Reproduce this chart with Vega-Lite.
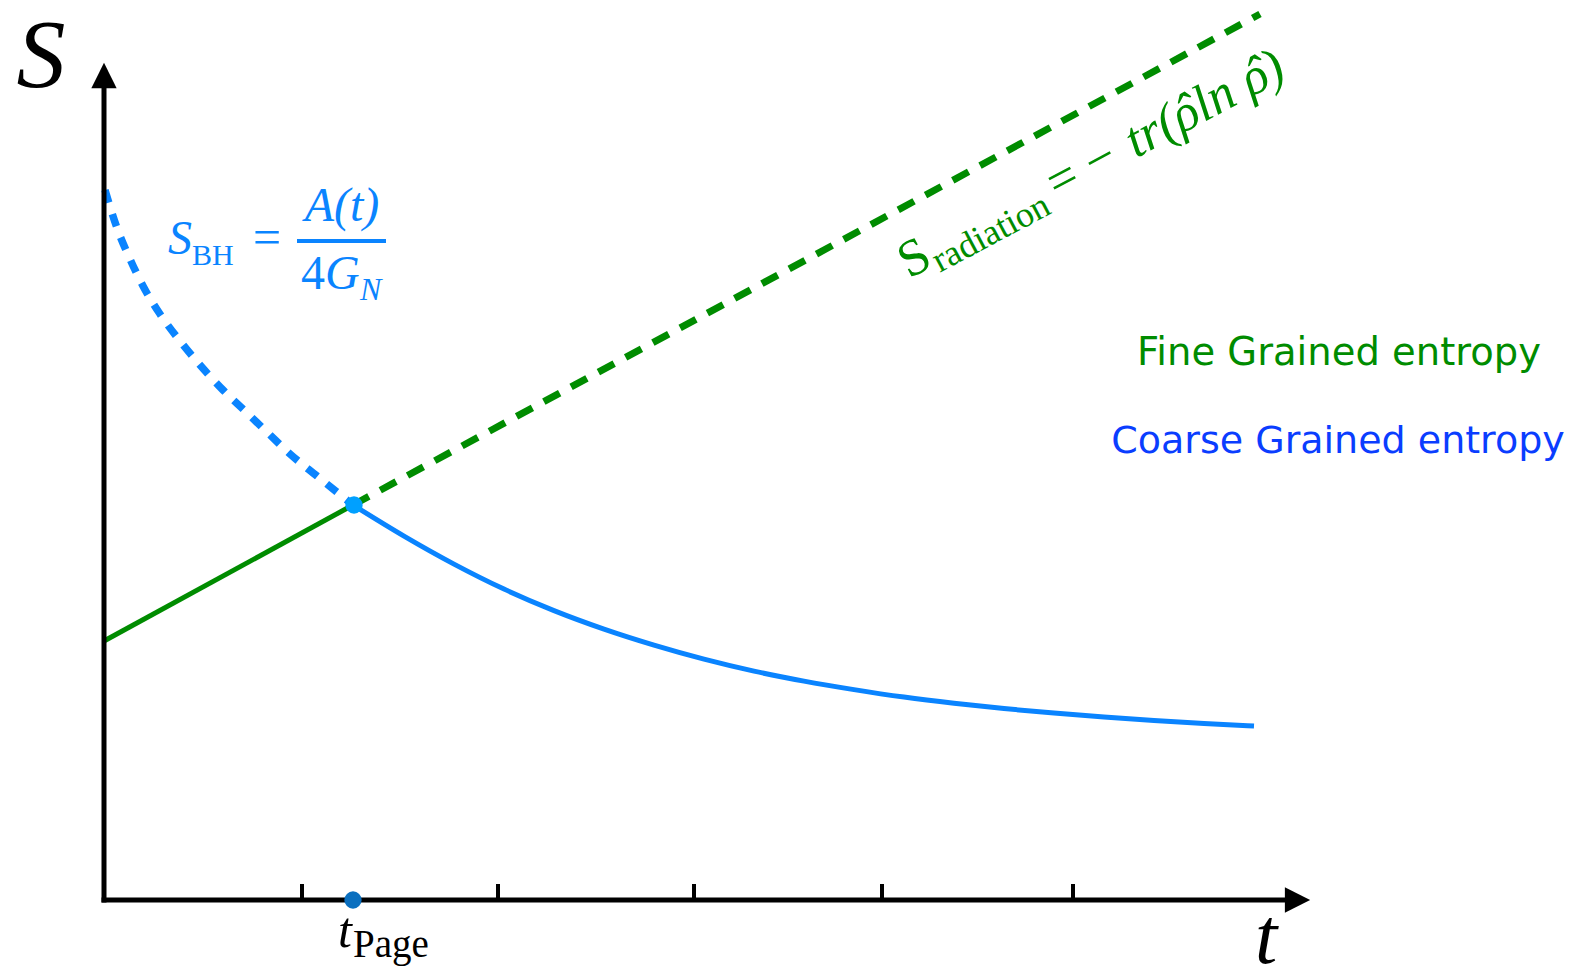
{
  "$schema": "https://vega.github.io/schema/vega-lite/v6.json",
  "width": 1571,
  "height": 977,
  "padding": 0,
  "autosize": {"type": "none"},
  "background": "white",
  "config": {"view": {"stroke": null}},
  "datasets": {
    "bhDashed": [
      {"t": 0.01, "S": 7.10}, {"t": 0.13, "S": 6.72}, {"t": 0.26, "S": 6.41}, {"t": 0.39, "S": 6.14},
      {"t": 0.56, "S": 5.86}, {"t": 0.76, "S": 5.59}, {"t": 0.96, "S": 5.35}, {"t": 1.19, "S": 5.10},
      {"t": 1.41, "S": 4.89}, {"t": 1.64, "S": 4.67}, {"t": 1.86, "S": 4.46}, {"t": 2.13, "S": 4.24},
      {"t": 2.39, "S": 4.03}, {"t": 2.49, "S": 3.95}
    ],
    "bhSolid": [
      {"t": 2.49, "S": 3.95}, {"t": 3.0, "S": 3.639}, {"t": 3.5, "S": 3.359}, {"t": 4.0, "S": 3.109},
      {"t": 4.5, "S": 2.894}, {"t": 5.0, "S": 2.709}, {"t": 5.5, "S": 2.549}, {"t": 6.0, "S": 2.409},
      {"t": 6.5, "S": 2.289}, {"t": 7.0, "S": 2.189}, {"t": 7.5, "S": 2.104}, {"t": 8.0, "S": 2.029},
      {"t": 8.5, "S": 1.967}, {"t": 9.0, "S": 1.914}, {"t": 9.5, "S": 1.869}, {"t": 10.0, "S": 1.829},
      {"t": 10.5, "S": 1.794}, {"t": 11.0, "S": 1.764}, {"t": 11.5, "S": 1.739}
    ],
    "radSolid": [{"t": 0, "S": 2.59}, {"t": 2.49, "S": 3.95}],
    "radDashed": [{"t": 2.49, "S": 3.95}, {"t": 11.56, "S": 8.86}],
    "axes": [{"t": 0, "S": 0, "t2": 0, "S2": 8.15}, {"t": 0, "S": 0, "t2": 11.85, "S2": 0}],
    "ticks": [
      {"t": 1.98, "S": 0, "S2": 0.16}, {"t": 3.94, "S": 0, "S2": 0.16}, {"t": 5.90, "S": 0, "S2": 0.16},
      {"t": 7.78, "S": 0, "S2": 0.16}, {"t": 9.69, "S": 0, "S2": 0.16}
    ]
  },
  "encoding": {
    "x": {"field": "t", "type": "quantitative", "axis": null, "scale": {"domain": [-1.04, 14.67], "nice": false, "zero": false}},
    "y": {"field": "S", "type": "quantitative", "axis": null, "scale": {"domain": [-0.77, 9.0], "nice": false, "zero": false}}
  },
  "layer": [
    {"data": {"name": "bhDashed"}, "mark": {"type": "line", "color": "#0a84ff", "strokeWidth": 7.5, "strokeDash": [13, 12], "interpolate": "monotone"}},
    {"data": {"name": "bhSolid"}, "mark": {"type": "line", "color": "#0a84ff", "strokeWidth": 5, "interpolate": "monotone"}},
    {"data": {"name": "radSolid"}, "mark": {"type": "line", "color": "#008c00", "strokeWidth": 5}},
    {"data": {"name": "radDashed"}, "mark": {"type": "line", "color": "#008c00", "strokeWidth": 7, "strokeDash": [18, 13]}},
    {"data": {"name": "axes"}, "mark": {"type": "rule", "color": "black", "strokeWidth": 5, "strokeCap": "square"},
     "encoding": {"x2": {"field": "t2"}, "y2": {"field": "S2"}}},
    {"data": {"name": "ticks"}, "mark": {"type": "rule", "color": "black", "strokeWidth": 4},
     "encoding": {"y2": {"field": "S2"}}},
    {"data": {"values": [{"t": 0, "S": 8.245}]}, "mark": {"type": "point", "shape": "M0,-1L1,1L-1,1Z", "size": 640, "filled": true, "color": "black", "opacity": 1}},
    {"data": {"values": [{"t": 11.935, "S": 0}]}, "mark": {"type": "point", "shape": "M1,0L-1,-1L-1,1Z", "size": 640, "filled": true, "color": "black", "opacity": 1}},
    {"data": {"values": [{"t": 2.49, "S": 0}]}, "mark": {"type": "point", "shape": "circle", "size": 300, "filled": true, "color": "#0a6fbf", "opacity": 1}},
    {"data": {"values": [{"t": 2.50, "S": 3.95}]}, "mark": {"type": "point", "shape": "circle", "size": 300, "filled": true, "color": "#00a0ff", "opacity": 1}},

    {"data": {"values": [{"t": -0.63, "S": 8.13, "label": "S"}]},
     "mark": {"type": "text", "font": "Liberation Serif", "fontStyle": "italic", "fontSize": 98, "align": "center", "baseline": "alphabetic", "color": "black"},
     "encoding": {"text": {"field": "label"}}},
    {"data": {"values": [{"t": 11.62, "S": -0.63, "label": "t"}]},
     "mark": {"type": "text", "font": "Liberation Serif", "fontStyle": "italic", "fontSize": 80, "align": "center", "baseline": "alphabetic", "color": "black"},
     "encoding": {"text": {"field": "label"}}},
    {"data": {"values": [{"t": 2.41, "S": -0.47, "label": "t"}]},
     "mark": {"type": "text", "font": "Liberation Serif", "fontStyle": "italic", "fontSize": 50, "align": "center", "baseline": "alphabetic", "color": "black"},
     "encoding": {"text": {"field": "label"}}},
    {"data": {"values": [{"t": 2.49, "S": -0.57, "label": "Page"}]},
     "mark": {"type": "text", "font": "Liberation Serif", "fontSize": 39, "align": "left", "baseline": "alphabetic", "color": "black"},
     "encoding": {"text": {"field": "label"}}},

    {"data": {"values": [{"t": 0.64, "S": 6.46, "label": "S"}]},
     "mark": {"type": "text", "font": "Liberation Serif", "fontStyle": "italic", "fontSize": 48, "align": "left", "baseline": "alphabetic", "color": "#0a84ff"},
     "encoding": {"text": {"field": "label"}}},
    {"data": {"values": [{"t": 0.88, "S": 6.35, "label": "BH"}]},
     "mark": {"type": "text", "font": "Liberation Serif", "fontSize": 30, "align": "left", "baseline": "alphabetic", "color": "#0a84ff"},
     "encoding": {"text": {"field": "label"}}},
    {"data": {"values": [{"t": 1.63, "S": 6.46, "label": "="}]},
     "mark": {"type": "text", "font": "Liberation Serif", "fontSize": 50, "align": "center", "baseline": "alphabetic", "color": "#0a84ff"},
     "encoding": {"text": {"field": "label"}}},
    {"data": {"values": [{"t": 1.93, "S": 6.59, "t2": 2.82}]},
     "mark": {"type": "rule", "color": "#0a84ff", "strokeWidth": 4},
     "encoding": {"x2": {"field": "t2"}}},
    {"data": {"values": [{"t": 2.38, "S": 6.79, "label": "A(t)"}]},
     "mark": {"type": "text", "font": "Liberation Serif", "fontStyle": "italic", "fontSize": 48, "align": "center", "baseline": "alphabetic", "color": "#0a84ff"},
     "encoding": {"text": {"field": "label"}}},
    {"data": {"values": [{"t": 1.97, "S": 6.11, "label": "4"}]},
     "mark": {"type": "text", "font": "Liberation Serif", "fontSize": 48, "align": "left", "baseline": "alphabetic", "color": "#0a84ff"},
     "encoding": {"text": {"field": "label"}}},
    {"data": {"values": [{"t": 2.21, "S": 6.11, "label": "G"}]},
     "mark": {"type": "text", "font": "Liberation Serif", "fontStyle": "italic", "fontSize": 48, "align": "left", "baseline": "alphabetic", "color": "#0a84ff"},
     "encoding": {"text": {"field": "label"}}},
    {"data": {"values": [{"t": 2.56, "S": 6.0, "label": "N"}]},
     "mark": {"type": "text", "font": "Liberation Serif", "fontStyle": "italic", "fontSize": 32, "align": "left", "baseline": "alphabetic", "color": "#0a84ff"},
     "encoding": {"text": {"field": "label"}}},

    {"data": {"values": [{"t": 8.05, "S": 6.21, "label": "S"}]},
     "mark": {"type": "text", "font": "Liberation Serif", "fontSize": 52, "angle": -28, "align": "left", "baseline": "alphabetic", "color": "#008c00"},
     "encoding": {"text": {"field": "label"}}},
    {"data": {"values": [{"t": 8.357, "S": 6.272, "label": "radiation"}]},
     "mark": {"type": "text", "font": "Liberation Serif", "fontSize": 36, "angle": -28, "align": "left", "baseline": "alphabetic", "color": "#008c00"},
     "encoding": {"text": {"field": "label"}}},
    {"data": {"values": [{"t": 9.533, "S": 6.998, "label": "= −"}]},
     "mark": {"type": "text", "font": "Liberation Serif", "fontSize": 52, "angle": -28, "align": "left", "baseline": "alphabetic", "color": "#008c00"},
     "encoding": {"text": {"field": "label"}}},
    {"data": {"values": [{"t": 10.319, "S": 7.416, "label": "tr(ρln ρ)"}]},
     "mark": {"type": "text", "font": "Liberation Serif", "fontStyle": "italic", "fontSize": 52, "angle": -28, "align": "left", "baseline": "alphabetic", "color": "#008c00"},
     "encoding": {"text": {"field": "label"}}},
    {"data": {"values": [{"t": 10.911, "S": 7.731, "label": "ˆ"}, {"t": 11.613, "S": 8.104, "label": "ˆ"}]},
     "mark": {"type": "text", "font": "Liberation Serif", "fontStyle": "italic", "fontSize": 52, "angle": -28, "align": "center", "baseline": "alphabetic", "color": "#008c00"},
     "encoding": {"text": {"field": "label"}}},

    {"data": {"values": [{"t": 12.35, "S": 5.35, "label": "Fine Grained entropy"}]},
     "mark": {"type": "text", "font": "DejaVu Sans", "fontSize": 38.5, "align": "center", "baseline": "alphabetic", "color": "#008c00"},
     "encoding": {"text": {"field": "label"}}},
    {"data": {"values": [{"t": 12.34, "S": 4.47, "label": "Coarse Grained entropy"}]},
     "mark": {"type": "text", "font": "DejaVu Sans", "fontSize": 38, "align": "center", "baseline": "alphabetic", "color": "#0a3dff"},
     "encoding": {"text": {"field": "label"}}}
  ]
}
